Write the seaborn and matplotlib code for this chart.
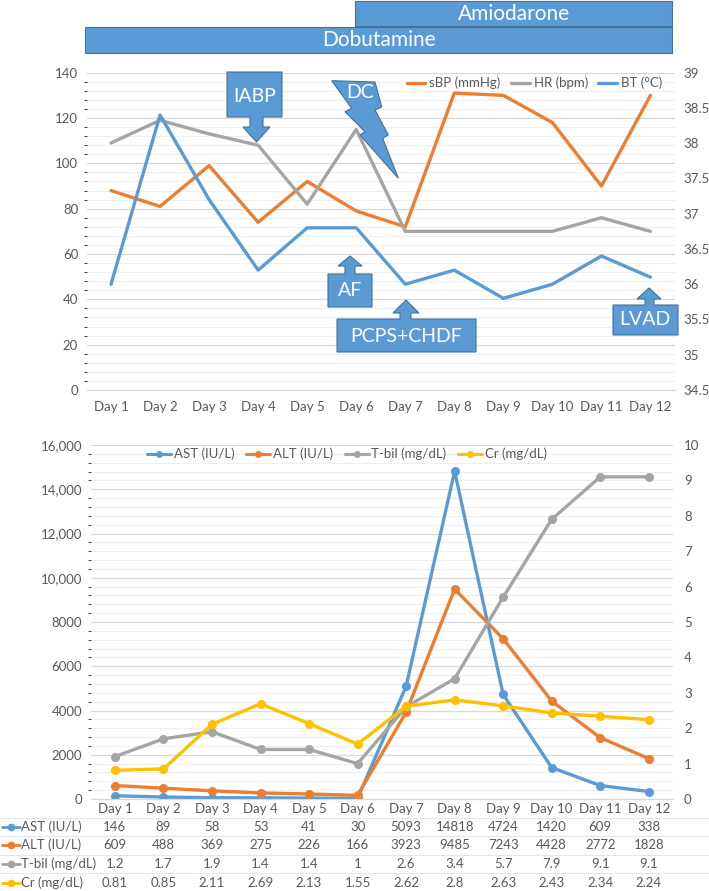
import matplotlib
matplotlib.use('Agg')
import matplotlib.pyplot as plt
import matplotlib.transforms as mtransforms
from matplotlib.lines import Line2D
from matplotlib.patches import Polygon, Rectangle
from matplotlib.ticker import MultipleLocator, FuncFormatter
import numpy as np
import pandas as pd
import seaborn as sns

sns.set_style('white')
plt.rcParams['font.family'] = ['Lato', 'DejaVu Sans']

# ---- data ----
days = ['Day %d' % i for i in range(1, 13)]
sbp = [88, 81, 99, 74, 92, 79, 72, 131, 130, 118, 90, 130]
hr = [109, 119, 113, 108, 82, 115, 70, 70, 70, 70, 76, 70]
bt = [36.0, 38.4, 37.2, 36.2, 36.8, 36.8, 36.0, 36.2, 35.8, 36.0, 36.4, 36.1]
ast = [146, 89, 58, 53, 41, 30, 5093, 14818, 4724, 1420, 609, 338]
alt = [609, 488, 369, 275, 226, 166, 3923, 9485, 7243, 4428, 2772, 1828]
tbil = [1.2, 1.7, 1.9, 1.4, 1.4, 1, 2.6, 3.4, 5.7, 7.9, 9.1, 9.1]
cr = [0.81, 0.85, 2.11, 2.69, 2.13, 1.55, 2.62, 2.8, 2.63, 2.43, 2.34, 2.24]
lab_left_ticks = ['0', '2000', '4000', '6000', '8000', '10,000', '12,000', '14,000', '16,000']
drugs = ['Dobutamine', 'Amiodarone']
events = ['IABP', 'DC', 'AF', 'PCPS+CHDF', 'LVAD']

ORANGE, GRAY, BLUE, YELLOW = '#ED7D31', '#A5A5A5', '#5B9BD5', '#FFC000'
BOX, BOXEDGE, TXT = '#5B9BD5', '#41719C', '#595959'

W, H = 709, 891
def fx(x): return x / W
def fy(y): return 1 - y / H

fig = plt.figure(figsize=(W / 100, H / 100), dpi=100)

def style_axis(ax, pad_x):
    for s in ax.spines.values():
        s.set_visible(False)
    ax.spines['bottom'].set_visible(True)
    ax.spines['bottom'].set_color('#D9D9D9')
    ax.set_xlim(-0.5, 11.5)
    ax.set_xticks(range(12))
    ax.set_xticklabels(days)
    ax.tick_params(axis='x', length=0, pad=pad_x, labelsize=9.5, labelcolor=TXT)
    ax.tick_params(axis='y', length=0, pad=6, labelsize=9.5, labelcolor=TXT)
    ax.set_xlabel('')
    ax.set_ylabel('')

# ---- top chart ----
vit = pd.DataFrame({'day': days, 'sBP': sbp, 'HR': hr, 'BT': bt})
ax1 = fig.add_axes([fx(86.5), fy(390), (675 - 86.5) / W, (390 - 72.7) / H])
ax1r = ax1.twinx()
sns.lineplot(data=vit, x='day', y='sBP', ax=ax1, color=ORANGE, lw=2.4, sort=False)
sns.lineplot(data=vit, x='day', y='HR', ax=ax1, color=GRAY, lw=2.4, sort=False)
sns.lineplot(data=vit, x='day', y='BT', ax=ax1r, color=BLUE, lw=2.4, sort=False)
ax1.set_ylim(0, 140)
ax1.yaxis.set_major_locator(MultipleLocator(20))
ax1.yaxis.set_minor_locator(MultipleLocator(4))
ax1.grid(which='major', axis='y', color='#D9D9D9', lw=0.9)
ax1.grid(which='minor', axis='y', color='#EFEFEF', lw=0.8)
ax1r.set_ylim(34.5, 39)
ax1r.yaxis.set_major_locator(MultipleLocator(0.5))
ax1r.yaxis.set_major_formatter(FuncFormatter(lambda v, p: '%g' % v))
style_axis(ax1, 8)
style_axis(ax1r, 8)
ax1.set_xticks(np.arange(-0.5, 12, 1), minor=True)
ax1.tick_params(axis='x', which='minor', length=4, color='#D9D9D9')
h1 = [Line2D([], [], color=c, lw=2.4) for c in (ORANGE, GRAY, BLUE)]
ax1r.legend(h1, ['sBP (mmHg)', 'HR (bpm)', 'BT (°C)'], loc='center right', ncol=3,
            bbox_to_anchor=(fx(662), fy(83)), bbox_transform=fig.transFigure,
            frameon=False, fontsize=9.5, handlelength=1.4, handletextpad=0.3,
            columnspacing=0.8, borderpad=0, borderaxespad=0, labelcolor=TXT)

# ---- bottom chart ----
lab = pd.DataFrame({'day': days, 'AST': ast, 'ALT': alt, 'Tbil': tbil, 'Cr': cr})
ax2 = fig.add_axes([fx(90.7), fy(799), (673 - 90.7) / W, (799 - 445) / H])
ax2r = ax2.twinx()
mk = dict(marker='o', markersize=6.5, markeredgewidth=0, lw=2.4, sort=False)
sns.lineplot(data=lab, x='day', y='AST', ax=ax2, color=BLUE, **mk)
sns.lineplot(data=lab, x='day', y='ALT', ax=ax2, color=ORANGE, **mk)
sns.lineplot(data=lab, x='day', y='Tbil', ax=ax2r, color=GRAY, **mk)
sns.lineplot(data=lab, x='day', y='Cr', ax=ax2r, color=YELLOW, **mk)
ax2.set_ylim(0, 16000)
ax2.set_yticks(np.arange(0, 16001, 2000))
ax2.set_yticklabels(lab_left_ticks)
ax2.yaxis.set_minor_locator(MultipleLocator(400))
ax2.grid(which='major', axis='y', color='#D9D9D9', lw=0.9)
ax2.grid(which='minor', axis='y', color='#EFEFEF', lw=0.8)
ax2r.set_ylim(0, 10)
ax2r.set_yticks(range(11))
style_axis(ax2, 3)
style_axis(ax2r, 3)
ax2r.tick_params(axis='y', pad=8)
series_lab = [('AST (IU/L)', BLUE, ast), ('ALT (IU/L)', ORANGE, alt),
              ('T-bil (mg/dL)', GRAY, tbil), ('Cr (mg/dL)', YELLOW, cr)]
h2 = [Line2D([], [], color=c, lw=2.2, marker='o', markersize=5, markeredgewidth=0)
      for _, c, _ in series_lab]
ax2r.legend(h2, [s[0] for s in series_lab], loc='center', ncol=4,
            bbox_to_anchor=(fx(347), fy(454)), bbox_transform=fig.transFigure,
            frameon=False, fontsize=9.5, handlelength=1.8, handletextpad=0.2,
            columnspacing=0.9, borderpad=0, borderaxespad=0, labelcolor=TXT)

# ---- data table under the bottom chart ----
blend = mtransforms.blended_transform_factory(ax2.transData, fig.transFigure)
row_y = [827, 845, 864, 883]
for yy in [818, 836, 855, 873]:
    fig.add_artist(Line2D([0, 1], [fy(yy), fy(yy)], color='#E6E6E6', lw=0.8,
                          transform=fig.transFigure))
for (name, c, vals), yy in zip(series_lab, row_y):
    fig.add_artist(Line2D([fx(2), fx(11), fx(20)], [fy(yy)] * 3, color=c, lw=2,
                          marker='o', markersize=4.5, markevery=[1],
                          transform=fig.transFigure))
    fig.text(fx(21), fy(yy), name, ha='left', va='center', fontsize=9.5, color=TXT)
    for i, v in enumerate(vals):
        fig.text(i, fy(yy), '%g' % v, transform=blend, ha='center', va='center',
                 fontsize=9.5, color=TXT)

# ---- drug bars ----
for name, (x0, y0, x1, y1) in zip(drugs, [(85, 27, 672, 53), (355, 1, 672, 26)]):
    fig.add_artist(Rectangle((fx(x0), fy(y1)), (x1 - x0) / W, (y1 - y0) / H,
                             facecolor=BOX, edgecolor=BOXEDGE, lw=0.8,
                             transform=fig.transFigure))
    fig.text(fx((x0 + x1) / 2), fy((y0 + y1) / 2), name, ha='center', va='center',
             color='white', fontsize=15)

# ---- event callouts (box with an arrow, pixel coords from the top) ----
def callout(box, shaft, head, hb, tip):
    x0, y0, x1, y1 = box
    if tip[1] > y1:          # arrow pointing down from the bottom edge
        start = [(x0, y0), (x1, y0), (x1, y1)]
        edge, close = y1, (x0, y1)
    else:                    # arrow pointing up from the top edge
        start = [(x0, y1), (x1, y1), (x1, y0)]
        edge, close = y0, (x0, y0)
    pts = start + [(shaft[1], edge), (shaft[1], hb), (head[1], hb), tip,
                   (head[0], hb), (shaft[0], hb), (shaft[0], edge), close]
    fig.add_artist(Polygon([(fx(a), fy(b)) for a, b in pts], closed=True,
                           facecolor=BOX, edgecolor=BOXEDGE, lw=0.8,
                           transform=fig.transFigure))

callout((227, 72, 282, 117), (250, 263), (243, 270), 127, (256.5, 142))
callout((328, 274, 372, 307), (345, 355), (338, 362), 266, (350, 256))
callout((337, 319, 476, 352), (400, 411), (393, 419), 313, (406, 300))
callout((613, 305, 678, 335), (645, 654), (637, 661), 299, (649, 288))
bolt = [(331.7, 80.7), (375, 82), (381.7, 107), (375, 110), (388.3, 135),
        (382.7, 138.3), (398.3, 178.3), (360, 135), (365, 131.7), (345, 111.7),
        (351.7, 108.3)]
fig.add_artist(Polygon([(fx(a), fy(b)) for a, b in bolt], closed=True,
                       facecolor=BOX, edgecolor=BOXEDGE, lw=0.8,
                       transform=fig.transFigure))
for name, (tx, ty) in zip(events, [(254.5, 96), (360, 93), (350, 291),
                                   (406, 336), (645, 320)]):
    fig.text(fx(tx), fy(ty), name, ha='center', va='center', color='white',
             fontsize=14, zorder=5)

fig.savefig('out.png', dpi=100)
